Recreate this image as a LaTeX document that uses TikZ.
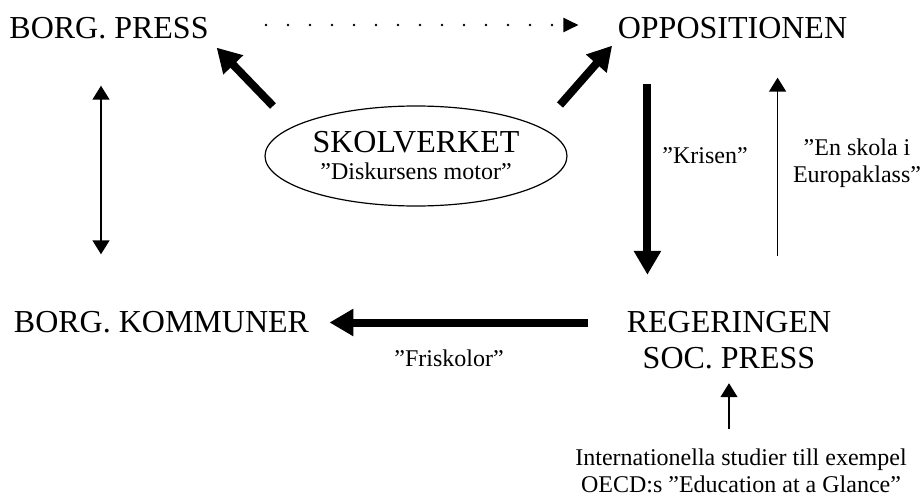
\documentclass[tikz,border=0pt]{standalone}
\usepackage{fontspec}
\setmainfont{Liberation Serif}
\usetikzlibrary{arrows.meta,shapes.geometric}

\begin{document}
\begin{tikzpicture}[x=0.5pt,y=-0.5pt,
  main node/.style={inner sep=0pt,align=center,font=\fontsize{16}{18}\selectfont},
  label node/.style={inner sep=0pt,align=center,font=\fontsize{12}{13.5}\selectfont},
  thick arrow/.style={line width=4pt,-{Triangle[length=12pt,width=13pt]}},
  thin arrow/.style={line width=0.75pt,-{Triangle[length=7pt,width=8.5pt]}},
  thin double/.style={line width=0.75pt,{Triangle[length=7pt,width=8.5pt]}-{Triangle[length=7pt,width=8.5pt]}},
  dotted arrow/.style={line width=1.3pt,line cap=round,dash pattern=on 0pt off 11pt,-{Triangle[length=7.5pt,width=7pt]}}]
  \useasboundingbox (0,0) rectangle (922,498);

  \node[main node] (1) at (109,28.5) {BORG. PRESS};
  \node[main node] (2) at (732.5,28.5) {OPPOSITIONEN};
  \node[main node] (3) at (161.5,322.5) {BORG. KOMMUNER};
  \node[main node] (4) at (729,340) {REGERINGEN\\SOC. PRESS};
  \node[label node,ellipse,draw,line width=0.6pt,minimum width=151pt,minimum height=50pt] (5) at (416,156)
    {{\fontsize{16}{13.5}\selectfont SKOLVERKET}\\”Diskursens motor”};
  \node[label node] (6) at (741,471) {Internationella studier till exempel\\OECD:s ”Education at a Glance”};

  % labels
  \node[label node] (7) at (705,155.5) {”Krisen”};
  \node[label node] (8) at (857,163) {”En skola i\\Europaklass”};
  \node[label node] (9) at (449,358.5) {”Friskolor”};

  \coordinate (a) at (273,106);
  \coordinate (b) at (560,105);
  \coordinate (c) at ([xshift=15pt]2.south west);
  \coordinate (d) at ([xshift=-4pt]1.south);
  \coordinate (e) at ([xshift=-35pt]2.south east);

\path
  ([yshift=1.75pt]1.east) edge[dotted arrow,shorten <=28.5pt,shorten >=19.5pt] ([yshift=1.75pt]2.west)
  (a) edge[thick arrow,shorten >=5.5pt] (1.south east)
  (b) edge[thick arrow,shorten >=4pt] (2.south west)
  (c) edge[thick arrow,shorten <=22pt,shorten >=18pt] (c |- 4.north)
  (e |- 4.north) edge[thin arrow,shorten <=27.5pt,shorten >=19pt] (e)
  (d) edge[thin double,shorten <=23pt,shorten >=28.5pt] (d |- 3.north)
  (4.west |- 3.east) edge[thick arrow,shorten <=19pt,shorten >=10pt] (3.east)
  (6.north -| 4.south) edge[thin arrow,shorten <=10pt,shorten >=7pt] (4.south)
;
\end{tikzpicture}
\end{document}
